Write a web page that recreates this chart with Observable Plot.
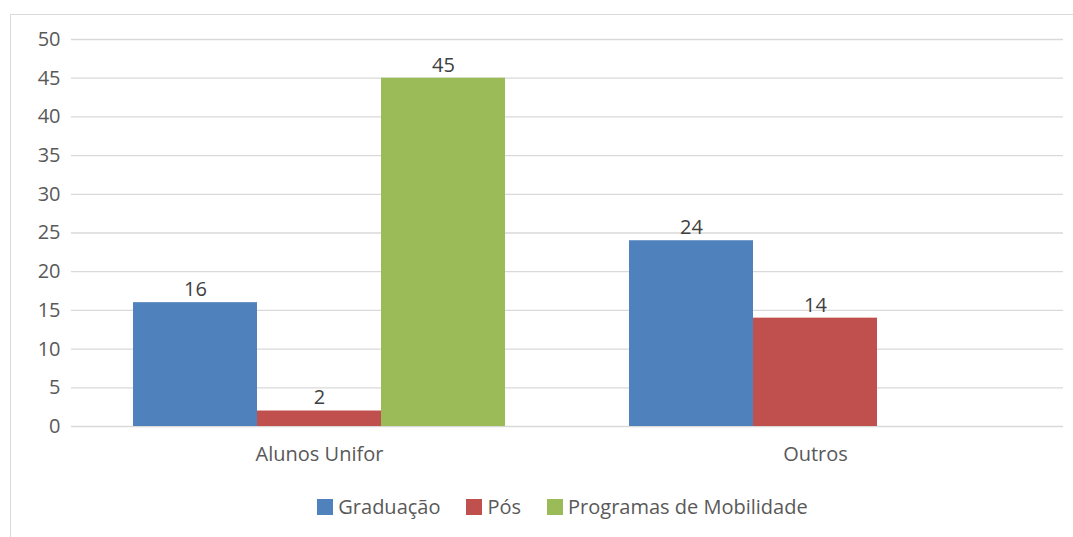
<!DOCTYPE html>
<html>
<head>
<meta charset="utf-8">
<script src="https://cdn.jsdelivr.net/npm/d3@7"></script>
<script src="https://cdn.jsdelivr.net/npm/@observablehq/plot@0.6"></script>
<style>
  html, body { margin: 0; padding: 0; background: #fff; width: 1073px; height: 537px; overflow: hidden; }
  #frame { position: absolute; left: 10px; top: 14px; width: 1090px; height: 540px; border: 1px solid #d9d9d9; box-sizing: border-box; }
  #chart { position: absolute; left: 0; top: 0; }
  #legend { position: absolute; left: 66px; width: 993px; top: 496px; display: flex; justify-content: center; gap: 26px;
            font-family: "Open Sans", sans-serif; font-size: 20px; color: #595959; line-height: 22px; }
  .item { display: flex; align-items: center; gap: 5px; }
  .sw { width: 16px; height: 16px; display: inline-block; }
</style>
</head>
<body>
<div id="frame"></div>
<div id="chart"></div>
<div id="legend"></div>
<script>
const categories = ["Alunos Unifor", "Outros"];
const series = ["Graduação", "Pós", "Programas de Mobilidade"];
const graduacao = [16, 24];
const pos = [2, 14];
const mobilidade = [45, null];
const colors = ["#4F81BD", "#C0504D", "#9BBB59"];
const yTicks = [0, 5, 10, 15, 20, 25, 30, 35, 40, 45, 50];

const valuesBySeries = [graduacao, pos, mobilidade];
const data = categories.flatMap((c, i) =>
  series.map((s, j) => ({group: c, series: s, value: valuesBySeries[j][i]}))
).filter(d => d.value != null);

const chart = Plot.plot({
  width: 1073,
  height: 475,
  marginLeft: 70,
  marginRight: 10,
  marginTop: 39,
  marginBottom: 49,
  style: {fontFamily: "Open Sans, sans-serif", fontSize: "20px", color: "#595959", background: "transparent", overflow: "visible"},
  fx: {domain: categories, padding: 0, label: null},
  x: {domain: series, paddingInner: 0, paddingOuter: 0.5, axis: null},
  y: {domain: [0, 50], axis: null},
  color: {domain: series, range: colors},
  marks: [
    Plot.gridY(yTicks, {stroke: "#d9d9d9", strokeOpacity: 1, strokeWidth: 1.3}),
    Plot.axisY(yTicks, {tickSize: 0, tickPadding: 11, label: null, fill: "#595959"}),
    Plot.axisFx({anchor: "bottom", tickSize: 0, tickPadding: 20, label: null, fill: "#595959"}),
    Plot.barY(data, {fx: "group", x: "series", y: "value", fill: "series"}),
    Plot.text(data, {fx: "group", x: "series", y: "value", text: "value", dy: -13, fill: "#404040"})
  ]
});
document.getElementById("chart").appendChild(chart);

const legend = document.getElementById("legend");
series.forEach((s, i) => {
  const item = document.createElement("div");
  item.className = "item";
  const sw = document.createElement("span");
  sw.className = "sw";
  sw.style.background = colors[i];
  const label = document.createElement("span");
  label.textContent = s;
  item.appendChild(sw);
  item.appendChild(label);
  legend.appendChild(item);
});
</script>
</body>
</html>
